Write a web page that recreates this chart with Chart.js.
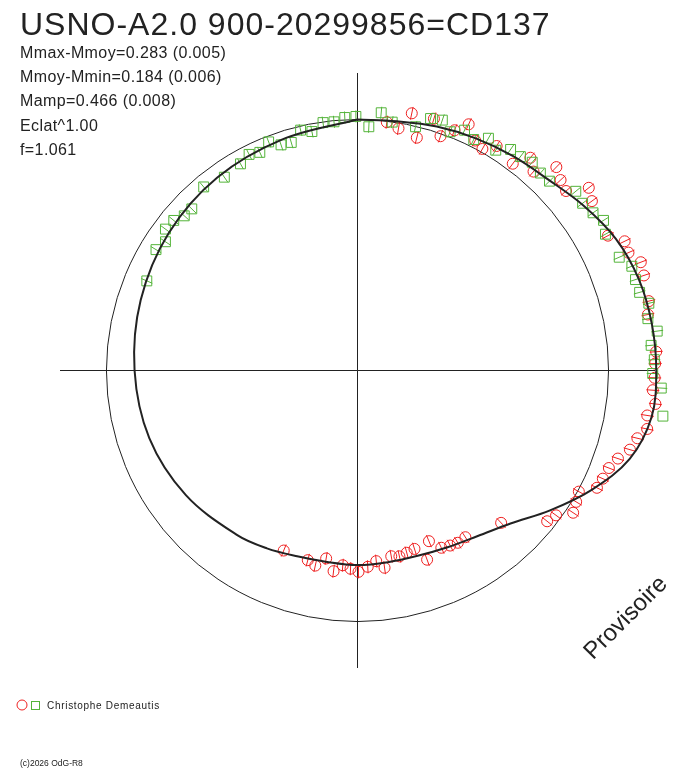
<!DOCTYPE html>
<html>
<head>
<meta charset="utf-8">
<script src="https://cdn.jsdelivr.net/npm/chart.js@4"></script>
<style>
  html, body { margin: 0; padding: 0; background: #fff; }
  #wrap { width: 688px; height: 768px; }
</style>
</head>
<body>
<div id="wrap"><canvas id="myChart" width="688" height="768"></canvas></div>
<script>
// phase (0..1, clockwise from top) and radius (mean circle = 1)
var redPhase = [0.0187, 0.0267, 0.0331, 0.0397, 0.0469, 0.0542, 0.0611, 0.0675, 0.0753, 0.0817, 0.0883, 0.1025, 0.1086, 0.1153, 0.1232, 0.1301, 0.1369, 0.1436, 0.1504, 0.1714, 0.1783, 0.1847, 0.1919, 0.1990, 0.2128, 0.2197, 0.2400, 0.2463, 0.2539, 0.2606, 0.2678, 0.2745, 0.2817, 0.2878, 0.2950, 0.3019, 0.3089, 0.3161, 0.3225, 0.3297, 0.3361, 0.3428, 0.3503, 0.3569, 0.3797, 0.4086, 0.4161, 0.4225, 0.4297, 0.4369, 0.4439, 0.4508, 0.4580, 0.4647, 0.4714, 0.4783, 0.4844, 0.4917, 0.4992, 0.5056, 0.5120, 0.5189, 0.5263, 0.5339, 0.5408, 0.5619];
var redRadius = [0.996, 0.978, 1.047, 0.957, 1.048, 0.990, 1.032, 1.076, 1.029, 1.013, 1.052, 1.030, 1.092, 1.058, 1.133, 1.109, 1.096, 1.174, 1.152, 1.133, 1.182, 1.177, 1.208, 1.202, 1.193, 1.178, 1.192, 1.186, 1.184, 1.179, 1.194, 1.168, 1.177, 1.147, 1.130, 1.095, 1.074, 1.068, 1.062, 1.005, 1.016, 1.029, 0.979, 0.965, 0.834, 0.791, 0.794, 0.789, 0.781, 0.737, 0.803, 0.746, 0.752, 0.759, 0.752, 0.793, 0.763, 0.783, 0.802, 0.790, 0.778, 0.805, 0.759, 0.795, 0.781, 0.775];

var greenPhase = [0.814, 0.836, 0.844, 0.851, 0.859, 0.866, 0.873, 0.889, 0.904, 0.918, 0.926, 0.933, 0.941, 0.948, 0.955, 0.963, 0.970, 0.978, 0.985, 0.992, 0.999, 0.0074, 0.0146, 0.0221, 0.0372, 0.0449, 0.0520, 0.0589, 0.0667, 0.0742, 0.0817, 0.0892, 0.0964, 0.1036, 0.1111, 0.1189, 0.1261, 0.1406, 0.1483, 0.1561, 0.1628, 0.1700, 0.1850, 0.1922, 0.1997, 0.2070, 0.2139, 0.2219, 0.2292, 0.2364, 0.2442, 0.2516, 0.2592, 0.2736];
var greenRadius = [0.912, 0.936, 0.921, 0.950, 0.945, 0.925, 0.922, 0.954, 0.935, 0.946, 0.963, 0.952, 0.977, 0.949, 0.946, 0.984, 0.969, 0.997, 0.995, 1.009, 1.012, 0.972, 1.031, 0.999, 0.998, 1.045, 1.053, 1.020, 1.048, 1.030, 1.062, 1.036, 1.071, 1.071, 1.083, 1.072, 1.074, 1.125, 1.117, 1.129, 1.148, 1.127, 1.136, 1.169, 1.165, 1.166, 1.191, 1.175, 1.204, 1.174, 1.183, 1.176, 1.212, 1.230];

// fitted curve
var fitPhase = [0, 0.025, 0.05, 0.075, 0.1, 0.125, 0.15, 0.175, 0.2, 0.225, 0.25, 0.275, 0.3, 0.325, 0.35, 0.375, 0.4, 0.425, 0.45, 0.475, 0.5, 0.525, 0.55, 0.575, 0.6, 0.65, 0.7, 0.75, 0.8, 0.85, 0.9, 0.95, 1.0];
var fitRadius = [1.000, 1.005, 1.022, 1.038, 1.055, 1.075, 1.115, 1.155, 1.178, 1.187, 1.190, 1.186, 1.140, 1.047, 0.948, 0.862, 0.815, 0.790, 0.776, 0.773, 0.775, 0.772, 0.778, 0.795, 0.812, 0.845, 0.872, 0.888, 0.908, 0.930, 0.950, 0.968, 1.000];

var titleText = 'USNO-A2.0 900-20299856=CD137';
var statLines = ['Mmax-Mmoy=0.283 (0.005)', 'Mmoy-Mmin=0.184 (0.006)', 'Mamp=0.466 (0.008)', 'Eclat^1.00', 'f=1.061'];
var observer = 'Christophe Demeautis';
var watermark = 'Provisoire';
var copyright = '(c)2026 OdG-R8';

var axisMax = 1.185;
var red = 'rgb(238,32,32)';
var green = 'rgb(84,180,58)';
var ink = '#222';

function toXY(phase, r) {
   return phase.map(function (p, i) {
      var a = 2 * Math.PI * p;
      return { x: r[i] * Math.sin(a), y: r[i] * Math.cos(a) };
   });
}
function radialAngle(phase) {
   return phase.map(function (p) { return 90 + p * 360; });
}

var framePlugin = {
   id: 'frame',
   beforeDatasetsDraw: function (chart) {
      var ctx = chart.ctx, xs = chart.scales.x, ys = chart.scales.y;
      var cx = xs.getPixelForValue(0), cy = ys.getPixelForValue(0);
      var R = xs.getPixelForValue(1) - cx;
      ctx.save();
      ctx.strokeStyle = ink;
      ctx.lineWidth = 1;
      ctx.beginPath();
      ctx.moveTo(xs.getPixelForValue(-axisMax), cy);
      ctx.lineTo(xs.getPixelForValue(axisMax), cy);
      ctx.moveTo(cx, ys.getPixelForValue(axisMax));
      ctx.lineTo(cx, ys.getPixelForValue(-axisMax));
      ctx.stroke();
      ctx.beginPath();
      ctx.arc(cx, cy, R, 0, 2 * Math.PI);
      ctx.stroke();
      ctx.restore();
   },
   afterDraw: function (chart) {
      var ctx = chart.ctx;
      ctx.save();
      ctx.fillStyle = ink;
      ctx.textBaseline = 'alphabetic';
      ctx.letterSpacing = '1px';
      ctx.font = '32px "Liberation Sans", Arial, sans-serif';
      ctx.fillText(titleText, 20, 35);
      ctx.letterSpacing = '0.4px';
      ctx.font = '16px "Liberation Sans", Arial, sans-serif';
      statLines.forEach(function (s, i) {
         ctx.fillText(s, 20, 58 + i * 24.2);
      });
      // legend
      ctx.lineWidth = 1;
      ctx.strokeStyle = red;
      ctx.beginPath();
      ctx.arc(22, 705, 5, 0, 2 * Math.PI);
      ctx.stroke();
      ctx.strokeStyle = green;
      ctx.strokeRect(31.5, 701.5, 8, 8);
      ctx.letterSpacing = '0.7px';
      ctx.font = '10px "Liberation Sans", Arial, sans-serif';
      ctx.fillText(observer, 47, 709);
      ctx.letterSpacing = '0px';
      ctx.font = '8.5px "Liberation Sans", Arial, sans-serif';
      ctx.fillText(copyright, 20, 766);
      // watermark
      ctx.translate(626, 618);
      ctx.rotate(-Math.PI / 4);
      ctx.font = '24px "Liberation Sans", Arial, sans-serif';
      ctx.textAlign = 'center';
      ctx.textBaseline = 'middle';
      ctx.fillText(watermark, 0, 0);
      ctx.restore();
   }
};

const ctx = document.getElementById('myChart').getContext('2d');
const myChart = new Chart(ctx, {
   type: 'scatter',
   data: {
      datasets: [{
         label: 'fit',
         data: toXY(fitPhase, fitRadius),
         showLine: true,
         borderColor: ink,
         borderWidth: 2,
         tension: 0.35,
         pointRadius: 0,
         clip: false,
         order: 0
      }, {
         label: 'red',
         data: toXY(redPhase, redRadius),
         pointStyle: 'circle',
         pointRadius: 5.5,
         borderColor: red,
         backgroundColor: 'rgba(0,0,0,0)',
         borderWidth: 1,
         clip: false,
         order: 2
      }, {
         label: 'red err',
         data: toXY(redPhase, redRadius),
         pointStyle: 'line',
         pointRadius: 6.5,
         pointRotation: radialAngle(redPhase),
         borderColor: red,
         borderWidth: 1,
         clip: false,
         order: 2
      }, {
         label: 'green',
         data: toXY(greenPhase, greenRadius),
         pointStyle: 'rect',
         pointRadius: 7,
         borderColor: green,
         backgroundColor: 'rgba(0,0,0,0)',
         borderWidth: 1,
         clip: false,
         order: 1
      }, {
         label: 'green err',
         data: toXY(greenPhase, greenRadius),
         pointStyle: 'line',
         pointRadius: 6,
         pointRotation: radialAngle(greenPhase),
         borderColor: green,
         borderWidth: 1,
         clip: false,
         order: 1
      }]
   },
   options: {
      responsive: false,
      animation: false,
      layout: { padding: { left: 60, right: 33, top: 73, bottom: 100 } },
      plugins: {
         legend: { display: false },
         tooltip: { enabled: false }
      },
      scales: {
         x: { type: 'linear', min: -axisMax, max: axisMax, display: false },
         y: { type: 'linear', min: -axisMax, max: axisMax, display: false }
      }
   },
   plugins: [framePlugin]
});
</script>
</body>
</html>
